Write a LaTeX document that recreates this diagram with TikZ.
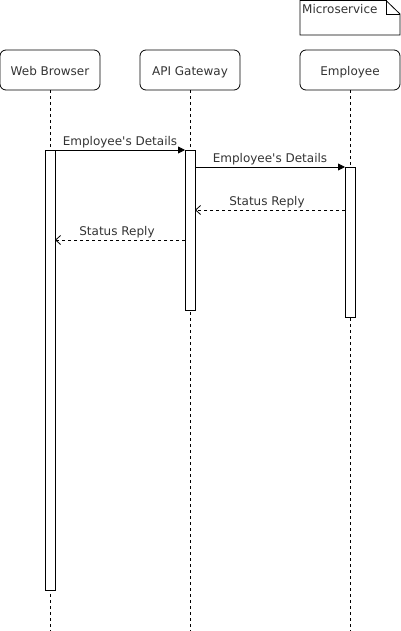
\documentclass[tikz,border=0pt]{standalone}
\usepackage{fontspec}
\setmainfont{DejaVu Sans}
\usetikzlibrary{arrows.meta}
\begin{document}
\begin{tikzpicture}[x=1pt,y=-1pt,
  actor/.style={draw=black,rounded corners=6pt,minimum width=100pt,minimum height=40pt,font=\fontsize{12}{14}\selectfont,text=black!80,inner sep=0pt,line width=0.8pt,text height=13pt,text depth=1pt},
  life/.style={draw=black,dash pattern=on 3pt off 3pt,line width=0.8pt},
  act/.style={draw=black,fill=white,line width=0.8pt},
  msg/.style={draw=black,line width=0.8pt,-{Triangle[length=7pt,width=7pt]}},
  reply/.style={draw=black,line width=0.8pt,dash pattern=on 3pt off 3pt,-{Straight Barb[length=5pt,width=9pt,line width=0.8pt]}},
  lbl/.style={font=\fontsize{12}{14}\selectfont,text=black!80,inner sep=0pt}]
\useasboundingbox (0,0) rectangle (401,631);
% note
\draw[line width=0.8pt] (300,0.5) -- (386,0.5) -- (400,14) -- (400,35) -- (300,35) -- cycle;
\draw[line width=0.8pt] (386,0.5) -- (386,14) -- (400,14);
\node[lbl,anchor=west] (note) at (302,9) {Microservice};
% actors
\node[actor] (wb) at (50,70) {Web Browser};
\node[actor] (gw) at (190,70) {API Gateway};
\node[actor] (em) at (350,70) {Employee};
\coordinate (wbend) at (50,631);
\coordinate (gwend) at (190,631);
\coordinate (emend) at (350,631);
\draw[life] (wb.south) -- (wbend);
\draw[life] (gw.south) -- (gwend);
\draw[life] (em.south) -- (emend);
% activations
\draw[act] (45,150) rectangle (55,590);
\draw[act] (185,150) rectangle (195,310);
\draw[act] (345,167) rectangle (355,317);
\coordinate (m1s) at (55,150); \coordinate (m1e) at (185,150);
\coordinate (m2s) at (195,167); \coordinate (m2e) at (345,167);
\coordinate (m3s) at (345,210); \coordinate (m3e) at (195,210);
\coordinate (m4s) at (185,240); \coordinate (m4e) at (55,240);
\draw[msg] (m1s) -- (m1e);
\draw[msg] (m2s) -- (m2e);
\draw[reply] (m3s) -- (m3e);
\draw[reply] (m4s) -- (m4e);
\node[lbl] (l1) at (120,142) {Employee\textquotesingle s Details};
\node[lbl] (l2) at (270,159) {Employee\textquotesingle s Details};
\node[lbl] (l3) at (267,202) {Status Reply};
\node[lbl] (l4) at (117,232) {Status Reply};
\end{tikzpicture}
\end{document}
